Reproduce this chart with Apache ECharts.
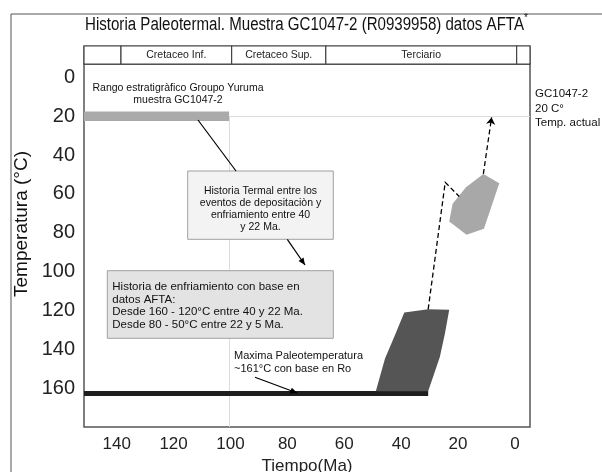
<!DOCTYPE html>
<html>
<head>
<meta charset="utf-8">
<script src="https://cdn.jsdelivr.net/npm/echarts@6/dist/echarts.min.js"></script>
<style>
html,body{margin:0;padding:0;background:#fff;}
#chart{width:602px;height:472px;}
</style>
</head>
<body>
<div id="chart"></div>
<script>
// ---- data ----
const timeRange = [-5.3, 151.5];          // Ma (axis runs right-to-left)
const tempRange = [-6.9, 180];            // °C (axis runs top-to-bottom)
const xTickLabels = [0, 20, 40, 60, 80, 100, 120, 140];
const yTickLabels = [0, 20, 40, 60, 80, 100, 120, 140, 160];
const periodNames = ['', 'Cretaceo Inf.', 'Cretaceo Sup.', 'Terciario', ''];
const periodBounds = [151.5, 138.5, 99.6, 66.5, -0.6, -5.3];
// [Ma start, Ma end, T top, T bottom]
const stratBar = [151.5, 100.5, 17.6, 22.4];
const maxPaleoBar = [151.5, 30.5, 161.5, 164.1];
// [Ma, °C]
const coolingEnvelopeA = [[38.9,121.1],[30.5,119.4],[23.1,119.6],[24.6,131.8],[26.4,144],[30.5,161.6],[48.9,161.6],[45.7,144.8],[42.2,132.8]];
const coolingEnvelopeB = [[11.1,49.7],[5.5,54.5],[10.9,77.9],[17.0,81.0],[23.1,74.2],[21.9,65.1],[17.2,56.6]];
const pathA = [[30.5,119.4],[24.5,54.0],[19.6,61.3]];
const pathB = [[11.1,49.7],[8.2,20.6]];
const presentTemp = 20;
const depositionAge = 100.5;

const FONT = 'Liberation Sans, Arial, sans-serif';
const barColors = ['#aaaaaa', '#1e1e1e'];

function measure(text, font) {
  const c = document.createElement('canvas').getContext('2d');
  c.font = font;
  return c.measureText(text).width;
}
function arrowHead(x1, y1, x2, y2, len, w) {
  const a = Math.atan2(y2 - y1, x2 - x1);
  const bx = x2 - len * Math.cos(a), by = y2 - len * Math.sin(a);
  return [[x2, y2], [bx + w * Math.sin(a), by - w * Math.cos(a)], [bx - w * Math.sin(a), by + w * Math.cos(a)]];
}
function leader(x1, y1, x2, y2, head) {
  const out = [{ type: 'line', shape: { x1: x1, y1: y1, x2: x2, y2: y2 }, style: { stroke: '#000', lineWidth: 1.2 }, z: 20 }];
  if (head) out.push({ type: 'polygon', shape: { points: arrowHead(x1, y1, x2, y2, 7, 3) }, style: { fill: '#000' }, z: 20 });
  return out;
}

const titleText = 'Historia Paleotermal. Muestra GC1047-2 (R0939958) datos AFTA';
const titleFont = '18px Liberation Sans';
const titleScale = 439 / measure(titleText, titleFont);

function rectItem(params, api) {
  const i = params.dataIndex;
  const p0 = api.coord([api.value(0), api.value(2)]);
  const p1 = api.coord([api.value(1), api.value(3)]);
  return {
    type: 'rect',
    shape: { x: Math.min(p0[0], p1[0]), y: Math.min(p0[1], p1[1]), width: Math.abs(p1[0] - p0[0]), height: Math.abs(p1[1] - p0[1]) },
    style: { fill: barColors[i] }
  };
}
function polygonSeries(points, color) {
  return {
    type: 'custom', xAxisIndex: 0, yAxisIndex: 0, z: 4, silent: true,
    data: points,
    encode: { x: 0, y: 1 },
    renderItem: function (params, api) {
      if (params.dataIndex !== 0) return null;
      return { type: 'polygon', shape: { points: points.map(p => api.coord(p)) }, style: { fill: color } };
    }
  };
}

const headerData = periodNames.map((n, i) => [periodBounds[i], periodBounds[i + 1], n]);

const chart = echarts.init(document.getElementById('chart'), null, { renderer: 'canvas' });
chart.setOption({
  animation: false,
  backgroundColor: '#fff',
  grid: [
    { left: 84, right: 72, top: 64, bottom: 45, outerBoundsMode: 'none', containLabel: false, show: true, borderColor: '#555', borderWidth: 1.5, backgroundColor: '#fff' },
    { left: 84, right: 72, top: 46, height: 18, outerBoundsMode: 'none', containLabel: false, show: true, borderColor: '#444', borderWidth: 1.2, backgroundColor: '#fff' }
  ],
  xAxis: [
    {
      type: 'value', gridIndex: 0, min: timeRange[0], max: timeRange[1], inverse: true,
      axisLine: { show: false }, axisTick: { show: false }, splitLine: { show: false },
      axisLabel: { customValues: xTickLabels, fontSize: 17, color: '#222', margin: 9, fontFamily: FONT },
      name: 'Tiempo(Ma)', nameLocation: 'middle', nameGap: 31,
      nameTextStyle: { fontSize: 17, color: '#222', fontFamily: FONT }
    },
    { type: 'value', gridIndex: 1, min: timeRange[0], max: timeRange[1], inverse: true, show: false }
  ],
  yAxis: [
    {
      type: 'value', gridIndex: 0, min: tempRange[0], max: tempRange[1], inverse: true,
      axisLine: { show: false }, axisTick: { show: false }, splitLine: { show: false },
      axisLabel: { customValues: yTickLabels, fontSize: 20, color: '#222', margin: 9, fontFamily: FONT }
    },
    { type: 'value', gridIndex: 1, min: 0, max: 1, show: false }
  ],
  series: [
    {
      type: 'lines', coordinateSystem: 'cartesian2d', xAxisIndex: 0, yAxisIndex: 0, z: 1, silent: true,
      data: [
        { coords: [[depositionAge, presentTemp], [timeRange[0], presentTemp]] },
        { coords: [[depositionAge, presentTemp], [depositionAge, tempRange[1]]] }
      ],
      lineStyle: { color: '#dcdcdc', width: 1, opacity: 1 }
    },
    {
      type: 'custom', xAxisIndex: 0, yAxisIndex: 0, z: 3, silent: true,
      data: [stratBar, maxPaleoBar],
      encode: { x: [0, 1], y: [2, 3] },
      renderItem: rectItem
    },
    polygonSeries(coolingEnvelopeA, '#555555'),
    polygonSeries(coolingEnvelopeB, '#a8a8a8'),
    {
      type: 'lines', coordinateSystem: 'cartesian2d', xAxisIndex: 0, yAxisIndex: 0, z: 5, silent: true,
      polyline: true,
      data: [{ coords: pathA }],
      lineStyle: { color: '#000', width: 1.3, type: [5, 3], opacity: 1 }
    },
    {
      type: 'lines', coordinateSystem: 'cartesian2d', xAxisIndex: 0, yAxisIndex: 0, z: 5, silent: true,
      data: [{ coords: pathB }],
      symbol: ['none', 'arrow'], symbolSize: 7,
      lineStyle: { color: '#000', width: 1.3, type: [5, 3], opacity: 1 }
    },
    {
      type: 'custom', xAxisIndex: 1, yAxisIndex: 1, z: 3, silent: true,
      data: headerData,
      encode: { x: [0, 1] },
      renderItem: function (params, api) {
        const d = headerData[params.dataIndex];
        const p0 = api.coord([d[0], 1]);
        const p1 = api.coord([d[1], 0]);
        return {
          type: 'rect',
          shape: { x: Math.min(p0[0], p1[0]), y: p0[1], width: Math.abs(p1[0] - p0[0]), height: p1[1] - p0[1] },
          style: { fill: '#fff', stroke: '#444', lineWidth: 1.2 },
          textContent: { style: { text: d[2], font: '10.5px Liberation Sans', fill: '#222' } },
          textConfig: { position: 'inside' }
        };
      }
    }
  ],
  graphic: [
    { type: 'rect', shape: { x: 11, y: 14, width: 700, height: 700 }, style: { fill: null, stroke: '#555', lineWidth: 1 }, z: 0, silent: true },
    { type: 'text', x: 304.5, y: 25, scaleX: titleScale, style: { text: titleText, font: titleFont, fill: '#111', align: 'center', verticalAlign: 'middle' }, z: 10 },
    { type: 'text', x: 526, y: 18, style: { text: '*', font: '10px Liberation Sans', fill: '#111', align: 'center', verticalAlign: 'middle' }, z: 10 },
    { type: 'text', x: 22, y: 224, rotation: Math.PI / 2, style: { text: 'Temperatura (°C)', font: '19px Liberation Sans', fill: '#111', align: 'center', verticalAlign: 'middle' }, z: 10 },
    { type: 'text', x: 535, y: 94.3, style: { text: 'GC1047-2', font: '11.5px Liberation Sans', fill: '#111', verticalAlign: 'middle' }, z: 10 },
    { type: 'text', x: 535, y: 108.5, style: { text: '20 C°', font: '11.5px Liberation Sans', fill: '#111', verticalAlign: 'middle' }, z: 10 },
    { type: 'text', x: 535, y: 123.3, style: { text: 'Temp. actual', font: '11.5px Liberation Sans', fill: '#111', verticalAlign: 'middle' }, z: 10 },
    { type: 'text', x: 178, y: 94.2, style: { text: 'Rango estratigràfico Groupo Yuruma\nmuestra GC1047-2', font: '10.5px Liberation Sans', lineHeight: 11.7, fill: '#111', align: 'center', verticalAlign: 'middle' }, z: 10 },
    { type: 'rect', shape: { x: 187.7, y: 171, width: 145.6, height: 68.3 }, style: { fill: '#f3f3f3', stroke: '#a0a0a0', lineWidth: 1 }, z: 15 },
    { type: 'text', x: 260.5, y: 208.7, style: { text: 'Historia Termal entre los\neventos de depositaciòn y\nenfriamiento entre 40\ny 22 Ma.', font: '10.5px Liberation Sans', lineHeight: 12, fill: '#111', align: 'center', verticalAlign: 'middle' }, z: 16 },
    { type: 'rect', shape: { x: 107.3, y: 270.7, width: 226, height: 67.6 }, style: { fill: '#e3e3e3', stroke: '#a0a0a0', lineWidth: 1 }, z: 15 },
    { type: 'text', x: 112.3, y: 305.9, style: { text: 'Historia de enfriamiento con base en\ndatos AFTA:\nDesde 160 - 120°C entre 40 y 22 Ma.\nDesde 80 - 50°C entre 22 y 5 Ma.', font: '11.5px Liberation Sans', lineHeight: 12.8, fill: '#111', align: 'left', verticalAlign: 'middle' }, z: 16 },
    { type: 'text', x: 234, y: 362.7, style: { text: 'Maxima Paleotemperatura\n~161°C con base en Ro', font: '11px Liberation Sans', lineHeight: 13.3, fill: '#111', align: 'left', verticalAlign: 'middle' }, z: 16 }
  ].concat(
    leader(198, 120, 236, 171, false),
    leader(287.3, 239.3, 305, 265, true),
    leader(255, 377.3, 297.3, 393, true)
  )
});
</script>
</body>
</html>
